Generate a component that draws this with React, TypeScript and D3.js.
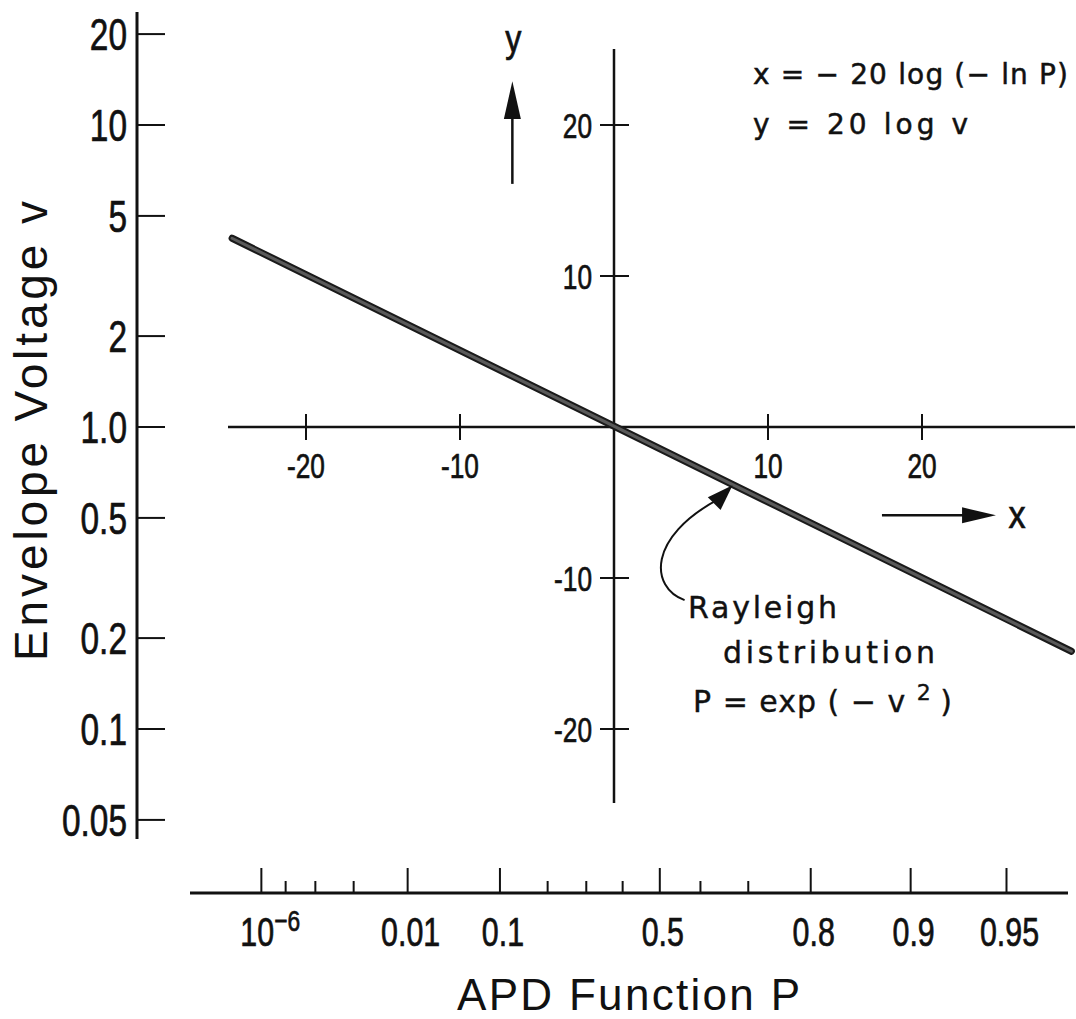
import React, { useRef, useEffect } from "react";
import * as d3 from "d3";

// left axis: envelope voltage v (log)
const vTicks = [20, 10, 5, 2, 1, 0.5, 0.2, 0.1, 0.05];
const vTickLabels = ["20", "10", "5", "2", "1.0", "0.5", "0.2", "0.1", "0.05"];

// inner axes, dB
const dbTicks = [-20, -10, 10, 20];
const dbTickLabels = ["-20", "-10", "10", "20"];

// bottom axis: APD function P
const pMajor = [1e-6, 0.01, 0.1, 0.5, 0.8, 0.9, 0.95];
const pMajorLabels = ["10", "0.01", "0.1", "0.5", "0.8", "0.9", "0.95"];
const pMinor = [1e-5, 1e-4, 1e-3, 0.2, 0.3, 0.4, 0.6, 0.7];

// Rayleigh line end points (dB)
const rayleighX = [-24.8, 29.7];
const rayleighY = [12.5, -14.85];

const NARROW = "'Liberation Sans', Arial, sans-serif";
const SANS = "'Liberation Sans', Arial, sans-serif";
const ROUND = "'DejaVu Sans', 'Liberation Sans', sans-serif";
const INK = "#111";

const pToDb = (p: number) => -20 * Math.log10(-Math.log(p));

type G = d3.Selection<any, unknown, null, undefined>;

// condensed tick lettering: squeeze a regular sans horizontally
const narrowText = (g: G, x: number, y: number, size: number, sx: number, anchor: string, txt: string) =>
  g.append("text")
    .attr("transform", `translate(${x},${y}) scale(${sx},1)`)
    .attr("text-anchor", anchor)
    .attr("font-family", NARROW).attr("font-size", size)
    .attr("fill", INK).attr("stroke", INK).attr("stroke-width", 0.7)
    .text(txt);

const App: React.FC = () => {
  const svgRef = useRef<SVGSVGElement>(null);

  useEffect(() => {
    const svg = d3.select(svgRef.current) as unknown as G;
    svg.selectAll("*").remove();

    const v = d3.scaleLog().domain([0.1, 10]).range([729, 125]);
    const xDb = d3.scaleLinear().domain([-20, 20]).range([306, 922]);
    const yDb = d3.scaleLinear().domain([-20, 20]).range([729, 125]);
    const xP = d3.scaleLinear().domain([-20, 20]).range([304.4, 917.6]);

    // ---- left axis
    const leftX = 137;
    svg.append("line")
      .attr("x1", leftX).attr("x2", leftX)
      .attr("y1", 12).attr("y2", 839)
      .attr("stroke", INK).attr("stroke-width", 3);

    vTicks.forEach((t, i) => {
      svg.append("line")
        .attr("x1", leftX).attr("x2", leftX + 28)
        .attr("y1", v(t)).attr("y2", v(t))
        .attr("stroke", INK).attr("stroke-width", 2);
      narrowText(svg, leftX - 10, v(t) + 16, 44, 0.76, "end", vTickLabels[i]);
    });

    svg.append("text")
      .attr("transform", `translate(47,431) rotate(-90)`)
      .attr("text-anchor", "middle")
      .attr("font-family", SANS).attr("font-size", 46)
      .attr("textLength", 460).attr("lengthAdjust", "spacing")
      .attr("fill", INK)
      .text("Envelope Voltage v");

    // ---- inner axes
    const x0 = xDb(0);
    const y0 = yDb(0);
    svg.append("line")
      .attr("x1", 228).attr("x2", 1075)
      .attr("y1", y0).attr("y2", y0)
      .attr("stroke", INK).attr("stroke-width", 2.5);
    svg.append("line")
      .attr("x1", x0).attr("x2", x0)
      .attr("y1", 49).attr("y2", 803)
      .attr("stroke", INK).attr("stroke-width", 2.5);

    dbTicks.forEach((t, i) => {
      svg.append("line")
        .attr("x1", xDb(t)).attr("x2", xDb(t))
        .attr("y1", y0 - 13).attr("y2", y0 + 13)
        .attr("stroke", INK).attr("stroke-width", 2);
      narrowText(svg, xDb(t), y0 + 51, 35, 0.75, "middle", dbTickLabels[i]);

      svg.append("line")
        .attr("x1", x0 - 14).attr("x2", x0 + 15)
        .attr("y1", yDb(t)).attr("y2", yDb(t))
        .attr("stroke", INK).attr("stroke-width", 2);
      narrowText(svg, x0 - 22, yDb(t) + 13, 35, 0.75, "end", dbTickLabels[i]);
    });

    // ---- Rayleigh line
    const pts: [number, number][] = rayleighX.map((d, i) => [xDb(d), yDb(rayleighY[i])]);
    const line = d3.line<[number, number]>();
    svg.append("path")
      .attr("d", line(pts))
      .attr("fill", "none").attr("stroke", "#1a1a1a")
      .attr("stroke-width", 7).attr("stroke-linecap", "round");
    svg.append("path")
      .attr("d", line(pts))
      .attr("fill", "none").attr("stroke", "#5a5a5a")
      .attr("stroke-width", 3).attr("stroke-linecap", "round");

    // ---- y arrow
    const ax = xDb(-6.6);
    svg.append("line")
      .attr("x1", ax).attr("x2", ax)
      .attr("y1", yDb(16.1)).attr("y2", yDb(20.6))
      .attr("stroke", INK).attr("stroke-width", 2.5);
    svg.append("path")
      .attr("d", `M${ax},${yDb(22.9)} L${ax - 8.5},${yDb(20.4)} L${ax + 8.5},${yDb(20.4)} Z`)
      .attr("fill", INK);
    narrowText(svg, ax + 1, 52, 38, 0.85, "middle", "y");

    // ---- x arrow
    const ay = yDb(-5.85);
    svg.append("line")
      .attr("x1", xDb(17.4)).attr("x2", xDb(22.8))
      .attr("y1", ay).attr("y2", ay)
      .attr("stroke", INK).attr("stroke-width", 2.5);
    svg.append("path")
      .attr("d", `M${xDb(24.8)},${ay} L${xDb(22.6)},${ay - 8} L${xDb(22.6)},${ay + 8} Z`)
      .attr("fill", INK);
    narrowText(svg, 1017, ay + 13, 38, 0.9, "middle", "x");

    // ---- formula
    svg.append("text")
      .attr("x", 753).attr("y", 84)
      .attr("font-family", ROUND).attr("font-size", 28)
      .attr("textLength", 315).attr("lengthAdjust", "spacing")
      .attr("fill", INK).attr("stroke", INK).attr("stroke-width", 0.5)
      .text("x = \u2212 20 log (\u2212 ln P)");
    svg.append("text")
      .attr("x", 753).attr("y", 134)
      .attr("font-family", ROUND).attr("font-size", 28)
      .attr("textLength", 215).attr("lengthAdjust", "spacing")
      .attr("fill", INK).attr("stroke", INK).attr("stroke-width", 0.5)
      .text("y = 20  log  v");

    // ---- Rayleigh annotation
    const tipX = xDb(7.7);
    const tipY = yDb(-3.85);
    const sx = tipX - 48, sy = tipY + 115;
    const c1x = tipX - 83, c1y = tipY + 102;
    const c2x = tipX - 85, c2y = tipY + 52;
    const ex = tipX - 14, ey = tipY + 14;
    svg.append("path")
      .attr("d", `M${sx},${sy} C${c1x},${c1y} ${c2x},${c2y} ${ex},${ey}`)
      .attr("fill", "none").attr("stroke", INK).attr("stroke-width", 2);
    const ang = Math.atan2(tipY - ey, tipX - ex);
    const hl = 26, hw = 9;
    const bx = tipX - hl * Math.cos(ang), by = tipY - hl * Math.sin(ang);
    svg.append("path")
      .attr("d", `M${tipX},${tipY} L${bx - hw * Math.sin(ang)},${by + hw * Math.cos(ang)} L${bx + hw * Math.sin(ang)},${by - hw * Math.cos(ang)} Z`)
      .attr("fill", INK);

    svg.append("text")
      .attr("x", 688).attr("y", 618)
      .attr("font-family", ROUND).attr("font-size", 30)
      .attr("textLength", 149).attr("lengthAdjust", "spacing")
      .attr("fill", INK).attr("stroke", INK).attr("stroke-width", 0.4)
      .text("Rayleigh");
    svg.append("text")
      .attr("x", 723).attr("y", 663)
      .attr("font-family", ROUND).attr("font-size", 30)
      .attr("textLength", 212).attr("lengthAdjust", "spacing")
      .attr("fill", INK).attr("stroke", INK).attr("stroke-width", 0.4)
      .text("distribution");
    const pt = svg.append("text")
      .attr("x", 693).attr("y", 712)
      .attr("font-family", ROUND).attr("font-size", 30)
      .attr("fill", INK).attr("stroke", INK).attr("stroke-width", 0.4);
    pt.append("tspan").attr("letter-spacing", 1).text("P = exp ( \u2212 v ");
    pt.append("tspan").attr("font-size", 22).attr("dy", -12).text("2");
    pt.append("tspan").attr("dy", 12).text(" )");

    // ---- bottom axis
    const by0 = 893;
    svg.append("line")
      .attr("x1", 190).attr("x2", 1068)
      .attr("y1", by0).attr("y2", by0)
      .attr("stroke", INK).attr("stroke-width", 3);
    pMinor.forEach((p) => {
      const xx = xP(pToDb(p));
      svg.append("line")
        .attr("x1", xx).attr("x2", xx)
        .attr("y1", by0).attr("y2", by0 - 12)
        .attr("stroke", INK).attr("stroke-width", 2);
    });
    pMajor.forEach((p, i) => {
      const xx = xP(pToDb(p));
      svg.append("line")
        .attr("x1", xx).attr("x2", xx)
        .attr("y1", by0).attr("y2", by0 - 25)
        .attr("stroke", INK).attr("stroke-width", 2);
      if (i === 0) {
        const t = narrowText(svg, xx - 21, 946, 40, 0.76, "start", "");
        t.append("tspan").text(pMajorLabels[i]);
        t.append("tspan").attr("font-size", 30).attr("dy", -15).text("\u22126");
      } else {
        narrowText(svg, xx + 3, 946, 40, 0.76, "middle", pMajorLabels[i]);
      }
    });

    svg.append("text")
      .attr("x", 457).attr("y", 1010)
      .attr("font-family", SANS).attr("font-size", 44)
      .attr("textLength", 343).attr("lengthAdjust", "spacing")
      .attr("fill", INK)
      .text("APD Function P");
  }, []);

  return (
    <svg
      ref={svgRef}
      width={1076}
      height={1019}
      style={{ position: "absolute", left: 0, top: 0, background: "#fff" }}
    ></svg>
  );
};

export default App;
